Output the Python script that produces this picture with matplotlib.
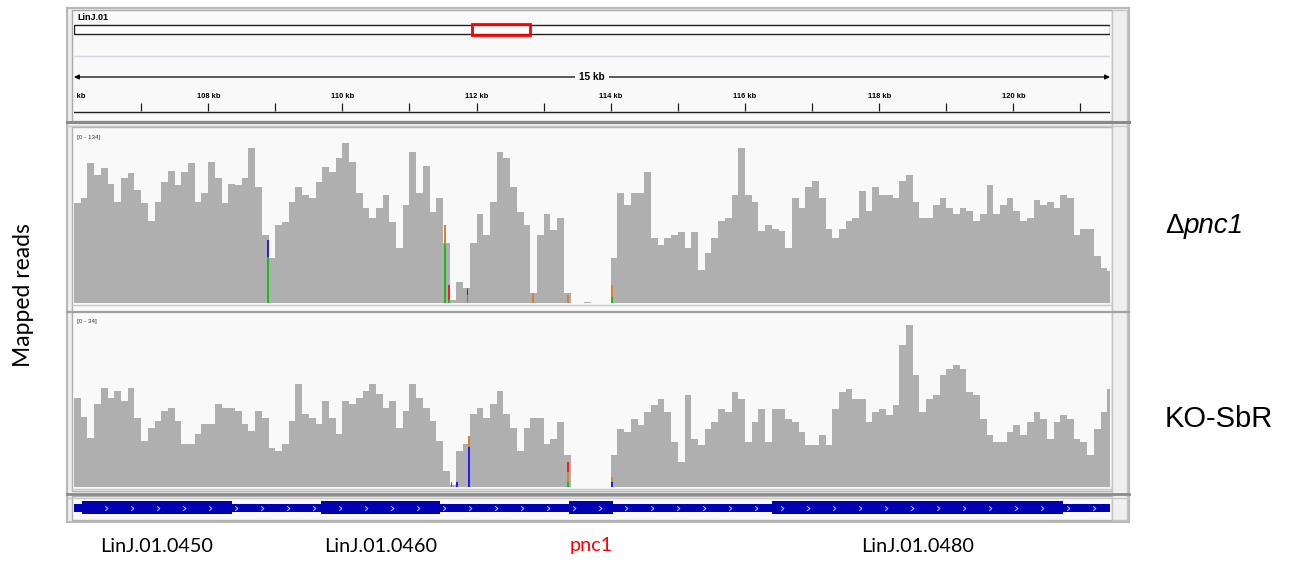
import numpy as np
import matplotlib
matplotlib.use("Agg")
import matplotlib.pyplot as plt
from matplotlib.patches import Rectangle
from matplotlib.path import Path

# ------------------------------------------------------------------ data
view_start_kb = 106.0
view_end_kb = 121.44
chrom_name = "LinJ.01"
chrom_len_kb = 276.0
bin_kb = 0.1

track_names = ["\u0394", "KO-SbR"]
range_dpnc1 = 134
range_kosbr = 34

# coverage (reads) per 100 bp bin, starting at view_start_kb
cov_dpnc1 = [
    78, 82, 109, 100, 105, 93, 79, 97, 101, 88,
    78, 64, 79, 94, 103, 92, 102, 109, 79, 86,
    110, 97, 78, 93, 92, 97, 121, 90, 53, 35,
    61, 63, 79, 90, 84, 82, 94, 106, 102, 113,
    125, 110, 86, 74, 66, 74, 84, 63, 43, 76,
    118, 86, 107, 71, 82, 47, 2, 16, 12, 47,
    69, 53, 79, 118, 113, 90, 71, 61, 8, 53,
    69, 57, 66, 8, 0, 0, 1, 0, 0, 0,
    35, 86, 76, 86, 86, 102, 51, 45, 51, 53,
    55, 43, 55, 26, 39, 51, 64, 66, 84, 121,
    84, 79, 56, 61, 58, 56, 43, 82, 74, 90,
    95, 82, 58, 51, 58, 64, 66, 87, 72, 90,
    84, 84, 82, 95, 100, 79, 66, 66, 76, 82,
    74, 69, 74, 72, 64, 69, 92, 69, 76, 82,
    72, 64, 66, 80, 76, 79, 74, 84, 82, 53,
    58, 58, 37, 27, 25]

cov_kosbr = [
    17.6, 13.8, 9.7, 16.4, 19.6, 17.6, 19.0, 17.0, 19.6, 13.6,
    9.1, 11.7, 13.0, 15.0, 15.6, 13.0, 8.5, 8.5, 10.5, 12.5,
    12.5, 16.4, 15.6, 15.6, 15.0, 12.5, 11.1, 15.0, 13.6, 7.7,
    7.1, 8.5, 13.0, 20.4, 14.4, 13.6, 12.5, 17.0, 13.6, 10.5,
    17.0, 16.4, 17.6, 19.0, 20.4, 18.4, 15.6, 17.0, 11.7, 15.0,
    20.4, 17.6, 15.6, 13.0, 9.1, 3.2, 0.4, 7.1, 8.5, 14.4,
    15.6, 13.6, 16.4, 19.0, 14.4, 11.7, 7.1, 11.7, 13.6, 13.6,
    8.5, 9.5, 12.9, 6.3, 0, 0, 0, 0, 0, 0,
    6.3, 11.5, 10.9, 13.4, 12.3, 14.8, 16.2, 17.4, 14.8, 8.9,
    4.9, 18.2, 9.5, 8.3, 11.5, 12.9, 15.4, 14.8, 18.8, 17.4,
    8.9, 12.9, 15.4, 8.9, 15.4, 15.4, 13.4, 12.9, 10.9, 8.3,
    8.3, 10.3, 8.3, 15.4, 18.8, 19.4, 17.4, 17.4, 12.9, 14.8,
    15.4, 14.2, 16.2, 28.0, 32.0, 22.1, 14.8, 17.4, 18.2, 22.1,
    23.3, 24.1, 23.3, 18.8, 18.2, 13.4, 10.3, 8.9, 8.9, 10.9,
    12.3, 10.3, 12.9, 14.8, 13.4, 9.5, 12.9, 14.2, 13.4, 9.5,
    8.9, 6.3, 11.5, 14.8, 19.4]

# mismatch positions (kb) and base counts
mm_dpnc1_kb = [108.891, 111.529, 111.589, 111.864, 112.84, 113.36, 114.02]
mm_dpnc1_counts = [
    {"A": 36, "C": 13},
    {"A": 46, "G": 15},
    {"A": 2, "T": 12},
    {"A": 6, "C": 4, "T": 2},
    {"G": 8},
    {"G": 6},
    {"A": 5, "G": 9},
]
mm_kosbr_kb = [111.626, 111.708, 111.887, 113.362, 114.018]
mm_kosbr_counts = [
    {"T": 1},
    {"C": 1},
    {"C": 8, "G": 2},
    {"A": 1, "T": 2, "G": 2},
    {"C": 1, "G": 1},
]
base_colors = {"A": "#1fb81f", "C": "#2020ff", "G": "#d9822b", "T": "#ff1a1a"}

# ruler
tick_kb = list(range(107, 122))
label_kb = [106, 108, 110, 112, 114, 116, 118, 120]

# genes (coding blocks)
gene_names = ["LinJ.01.0450", "LinJ.01.0460", "pnc1", "LinJ.01.0480"]
gene_start_kb = [106.12, 109.68, 113.38, 116.40]
gene_end_kb = [108.35, 111.45, 114.03, 120.74]
gene_label_colors = ["black", "black", "red", "black"]

# ------------------------------------------------------------------ figure
W, H = 1293, 561
fig = plt.figure(figsize=(W / 100, H / 100), dpi=100)
fig.patch.set_facecolor("white")


def ax_px(x0, y0, x1, y1):
    a = fig.add_axes([x0 / W, 1 - y1 / H, (x1 - x0) / W, (y1 - y0) / H])
    a.set_facecolor("none")
    a.axis("off")
    return a


bg = ax_px(0, 0, W, H)
bg.set_xlim(0, W)
bg.set_ylim(H, 0)

# IGV frame
bg.add_patch(Rectangle((67, 8), 1062, 514, facecolor="#eeeeee", edgecolor="#b8b8b8", lw=1.5))
bg.add_patch(Rectangle((72, 10), 1040, 111, facecolor="#f9f9f9", edgecolor="#a8a8a8", lw=1))
bg.add_patch(Rectangle((72, 127), 1040, 364, facecolor="#f9f9f9", edgecolor="#b0b0b0", lw=1))
bg.add_patch(Rectangle((72, 496), 1040, 24, facecolor="#f9f9f9", edgecolor="#b0b0b0", lw=1))
bg.add_patch(Rectangle((1112, 10), 15, 510, facecolor="#efefef", edgecolor="#c4c4c4", lw=1))
bg.plot([67, 1129], [121.5, 121.5], color="#8a8a8a", lw=2.2)
bg.plot([67, 1129], [125.5, 125.5], color="#c8c8c8", lw=1)
bg.plot([72, 1112], [304.5, 304.5], color="#c8c8c8", lw=1)
bg.plot([67, 1129], [311.5, 311.5], color="#a0a0a0", lw=1.6)
bg.plot([72, 1112], [488.5, 488.5], color="#c8c8c8", lw=1)
bg.plot([67, 1129], [493.5, 493.5], color="#8a8a8a", lw=2)
bg.plot([67, 1129], [497.5, 497.5], color="#c8c8c8", lw=1)

# ------------------------------------------------------------------ ruler panel
bg.text(77, 17, chrom_name, fontsize=6.5, fontweight="bold", va="center", ha="left",
        family="Liberation Sans")

ideo = ax_px(74, 10, 1110, 121)
ideo.set_xlim(0, chrom_len_kb)
ideo.set_ylim(121, 10)
ideo.add_patch(Rectangle((0, 25), chrom_len_kb, 9, facecolor="white", edgecolor="#202020", lw=1))
ideo.add_patch(Rectangle((view_start_kb, 23.5), view_end_kb - view_start_kb, 11.5,
                         facecolor="none", edgecolor="#ff0000", lw=2))

ruler = ax_px(74, 10, 1110, 121)
ruler.set_xlim(view_start_kb, view_end_kb)
ruler.set_ylim(121, 10)
ruler.plot([view_start_kb, view_end_kb], [55.5, 55.5], color="#d4d4e0", lw=1)
ruler.annotate("", xy=(view_start_kb, 77), xytext=(view_end_kb, 77),
               arrowprops=dict(arrowstyle="<|-|>", color="black", lw=0.9,
                               mutation_scale=7, shrinkA=0, shrinkB=0))
span_kb = view_end_kb - view_start_kb
ruler.text((view_start_kb + view_end_kb) / 2, 77, f"{int(span_kb)} kb", ha="center",
           va="center", fontsize=7.2, fontweight="bold", family="Liberation Sans",
           bbox=dict(facecolor="#f9f9f9", edgecolor="none", pad=3))
for kb in label_kb:
    ruler.text(kb, 97, f"{kb} kb", ha="center", va="center", fontsize=5.4,
               fontweight="bold", family="Liberation Sans", clip_on=True)
ruler.vlines(tick_kb, 103, 111, color="#202020", lw=0.9)
ruler.plot([view_start_kb, view_end_kb], [111.5, 111.5], color="#202020", lw=1)

# ------------------------------------------------------------------ coverage tracks
def coverage(y0, y1, cov, rng, mm_kb, mm_counts, label):
    a = ax_px(74, y0, 1110, y1)
    a.set_xlim(view_start_kb, view_end_kb)
    a.set_ylim(0, rng)
    edges = view_start_kb + bin_kb * np.arange(len(cov) + 1)
    a.stairs(cov, edges, fill=True, color="#afafaf", lw=0)
    for kb, counts in zip(mm_kb, mm_counts):
        bottom = 0
        for base in ["A", "C", "G", "T"]:
            if base in counts:
                a.bar(kb, counts[base], width=0.022, bottom=bottom,
                      color=base_colors[base], lw=0)
                bottom += counts[base]
    bg.text(77, y0 + 6, label, fontsize=4.5, va="center", ha="left", color="#333333",
            family="Liberation Sans")
    return a


coverage(131, 303, cov_dpnc1, range_dpnc1, mm_dpnc1_kb, mm_dpnc1_counts,
         f"[0 - {range_dpnc1}]")
coverage(315, 487, cov_kosbr, range_kosbr, mm_kosbr_kb, mm_kosbr_counts,
         f"[0 - {range_kosbr}]")

# ------------------------------------------------------------------ gene track
gene = ax_px(74, 496, 1110, 520)
gene.set_xlim(view_start_kb, view_end_kb)
gene.set_ylim(520, 496)
gblue = "#0000b2"
gene.add_patch(Rectangle((view_start_kb, 503.5), view_end_kb - view_start_kb, 8,
                         facecolor=gblue, edgecolor="none"))
for s, e in zip(gene_start_kb, gene_end_kb):
    gene.add_patch(Rectangle((s, 500.5), e - s, 13.5, facecolor=gblue, edgecolor="none"))
chev = Path([(-0.6, 1), (0.6, 0), (-0.6, -1)], [Path.MOVETO, Path.LINETO, Path.LINETO])
step = 26 / 67.1
xs = np.arange(view_start_kb + 0.48, view_end_kb - 0.05, step)
gene.plot(xs, np.full(len(xs), 507.5), ls="none", marker=chev, markersize=3.2,
          markeredgecolor="#d0d0ff", markerfacecolor="none", markeredgewidth=0.7)

for name, s, e, c in zip(gene_names, gene_start_kb, gene_end_kb, gene_label_colors):
    gene.text((s + e) / 2, 546, name, ha="center", va="center", fontsize=14.3,
              color=c, family="Lato", clip_on=False)

# ------------------------------------------------------------------ labels
bg.text(23, 295, "Mapped reads", rotation=90, ha="center", va="center",
        fontsize=16.5, family="Lato")

t1 = bg.text(1165, 233, track_names[0], ha="left", va="baseline", fontsize=20,
             family="Liberation Sans")
fig.canvas.draw()
bb = t1.get_window_extent()
bg.text(bb.x1, 233, "pnc1", ha="left", va="baseline", fontsize=20,
        family="Liberation Sans", style="italic")
bg.text(1165, 427, track_names[1], ha="left", va="baseline", fontsize=21,
        family="Liberation Sans")

fig.savefig("out.png", dpi=100)
